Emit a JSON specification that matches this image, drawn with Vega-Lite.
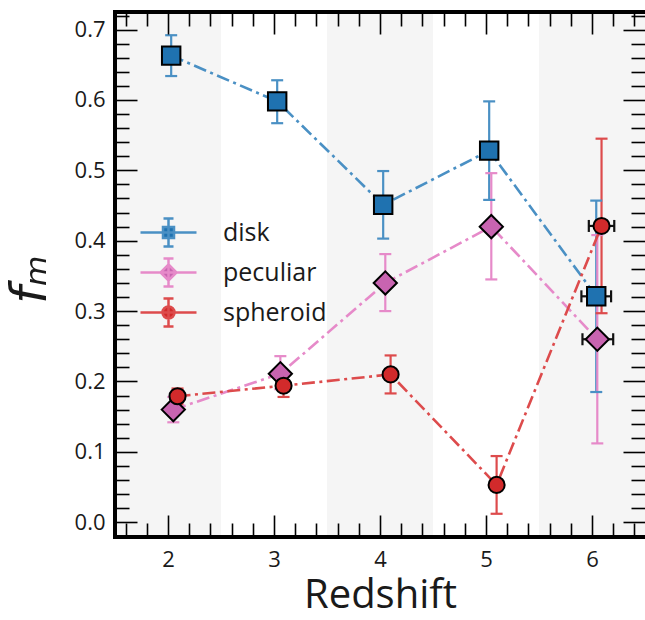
{
  "$schema": "https://vega.github.io/schema/vega-lite/v6.json",
  "width": 530,
  "height": 525,
  "autosize": {"type": "none"},
  "padding": {"left": 115, "top": 12, "right": 0, "bottom": 83},
  "background": "white",
  "config": {
    "view": {"stroke": null},
    "font": "Open Sans",
    "axis": {
      "labelFont": "Open Sans",
      "labelFontSize": 22,
      "labelColor": "#1a1a1a",
      "titleColor": "#1a1a1a",
      "titleFontWeight": "normal",
      "domain": false,
      "grid": false,
      "tickColor": "#000000",
      "tickWidth": 1.6,
      "labelFlush": false
    }
  },
  "datasets": {
    "pts": [
      {"series": "disk", "z": 2.03, "f": 0.663, "lo": 0.634, "hi": 0.692},
      {"series": "disk", "z": 3.03, "f": 0.598, "lo": 0.567, "hi": 0.628},
      {"series": "disk", "z": 4.03, "f": 0.451, "lo": 0.403, "hi": 0.499},
      {"series": "disk", "z": 5.03, "f": 0.528, "lo": 0.458, "hi": 0.598},
      {"series": "disk", "z": 6.04, "f": 0.321, "lo": 0.185, "hi": 0.457, "zlo": 5.9, "zhi": 6.18},
      {"series": "peculiar", "z": 2.05, "f": 0.16, "lo": 0.142, "hi": 0.178},
      {"series": "peculiar", "z": 3.06, "f": 0.211, "lo": 0.189, "hi": 0.236},
      {"series": "peculiar", "z": 4.05, "f": 0.34, "lo": 0.3, "hi": 0.381},
      {"series": "peculiar", "z": 5.05, "f": 0.42, "lo": 0.345, "hi": 0.496},
      {"series": "peculiar", "z": 6.05, "f": 0.26, "lo": 0.112, "hi": 0.408, "zlo": 5.91, "zhi": 6.2},
      {"series": "spheroid", "z": 2.09, "f": 0.179, "lo": 0.168, "hi": 0.19},
      {"series": "spheroid", "z": 3.09, "f": 0.194, "lo": 0.178, "hi": 0.208},
      {"series": "spheroid", "z": 4.1, "f": 0.21, "lo": 0.183, "hi": 0.237},
      {"series": "spheroid", "z": 5.1, "f": 0.053, "lo": 0.012, "hi": 0.094},
      {"series": "spheroid", "z": 6.09, "f": 0.421, "lo": 0.297, "hi": 0.545, "zlo": 5.97, "zhi": 6.21}
    ],
    "bands": [
      {"x0": 1.5, "x1": 2.5},
      {"x0": 3.5, "x1": 4.5},
      {"x0": 5.5, "x1": 6.5}
    ],
    "frame": [{"left": 1.5, "right": 6.53}]
  },
  "data": {"name": "pts"},
  "resolve": {
    "axis": {"x": "independent", "y": "independent"},
    "legend": {"color": "independent", "fill": "independent", "shape": "independent"}
  },
  "layer": [
    {
      "data": {"name": "bands"},
      "mark": {"type": "rect", "color": "#f5f5f5"},
      "encoding": {
        "x": {"field": "x0", "type": "quantitative", "scale": {"domain": [1.5, 6.5]}, "axis": null},
        "x2": {"field": "x1"}
      }
    },
    {
      "mark": {"type": "rule", "strokeWidth": 2.2},
      "encoding": {
        "x": {"field": "z", "type": "quantitative", "scale": {"domain": [1.5, 6.5]},
          "axis": {"orient": "bottom", "values": [2, 3, 4, 5, 6], "format": "d", "ticks": false, "tickSize": 0, "labelPadding": 12,
            "title": "Redshift", "titleFont": "Open Sans", "titleFontSize": 40, "titleY": 70, "titleBaseline": "alphabetic"}},
        "y": {"field": "lo", "type": "quantitative", "scale": {"domain": [-0.021, 0.725]},
          "axis": {"orient": "left", "values": [0, 0.1, 0.2, 0.3, 0.4, 0.5, 0.6, 0.7], "format": ".1f", "ticks": false, "tickSize": 0, "labelPadding": 10,
            "title": "fₘ", "titleFont": "DejaVu Sans", "titleFontStyle": "italic", "titleFontSize": 50, "titleX": -85, "titleY": 267,
            "titleAngle": -90, "titleAlign": "center", "titleBaseline": "middle"}},
        "y2": {"field": "hi"},
        "color": {"field": "series", "type": "nominal", "scale": {"domain": ["disk", "peculiar", "spheroid"], "range": ["#4a90c4", "#e68ac9", "#dd4b4c"]}, "legend": null}
      }
    },
    {
      "mark": {"type": "tick", "orient": "horizontal", "size": 12, "thickness": 2.2, "opacity": 1},
      "encoding": {
        "x": {"field": "z", "type": "quantitative", "scale": {"domain": [1.5, 6.5]},
          "axis": {"orient": "bottom", "values": [2, 3, 4, 5, 6], "labels": false, "tickSize": -22, "title": null, "zindex": 1}},
        "y": {"field": "lo", "type": "quantitative", "scale": {"domain": [-0.021, 0.725]},
          "axis": {"orient": "left", "values": [0, 0.1, 0.2, 0.3, 0.4, 0.5, 0.6, 0.7], "labels": false, "tickSize": -22, "title": null, "zindex": 1}},
        "color": {"field": "series", "type": "nominal", "scale": {"domain": ["disk", "peculiar", "spheroid"], "range": ["#4a90c4", "#e68ac9", "#dd4b4c"]}, "legend": null}
      }
    },
    {
      "mark": {"type": "tick", "orient": "horizontal", "size": 12, "thickness": 2.2, "opacity": 1},
      "encoding": {
        "x": {"field": "z", "type": "quantitative", "scale": {"domain": [1.5, 6.5]},
          "axis": {"orient": "bottom", "values": [1.6, 1.8, 2.2, 2.4, 2.6, 2.8, 3.2, 3.4, 3.6, 3.8, 4.2, 4.4, 4.6, 4.8, 5.2, 5.4, 5.6, 5.8, 6.2, 6.4], "labels": false, "tickSize": -14, "title": null, "zindex": 1}},
        "y": {"field": "hi", "type": "quantitative", "scale": {"domain": [-0.021, 0.725]},
          "axis": {"orient": "left", "values": [0.02, 0.04, 0.06, 0.08, 0.12, 0.14, 0.16, 0.18, 0.22, 0.24, 0.26, 0.28, 0.32, 0.34, 0.36, 0.38, 0.42, 0.44, 0.46, 0.48, 0.52, 0.54, 0.56, 0.58, 0.62, 0.64, 0.66, 0.68, 0.72], "labels": false, "tickSize": -14, "title": null, "zindex": 1}},
        "color": {"field": "series", "type": "nominal", "scale": {"domain": ["disk", "peculiar", "spheroid"], "range": ["#4a90c4", "#e68ac9", "#dd4b4c"]}, "legend": null}
      }
    },
    {
      "transform": [{"filter": "datum.zlo != null"}],
      "mark": {"type": "rule", "strokeWidth": 2.2, "color": "#111111"},
      "encoding": {
        "x": {"field": "zlo", "type": "quantitative", "scale": {"domain": [1.5, 6.5]},
          "axis": {"orient": "top", "values": [2, 3, 4, 5, 6], "labels": false, "tickSize": -22, "title": null, "zindex": 1}},
        "x2": {"field": "zhi"},
        "y": {"field": "f", "type": "quantitative", "scale": {"domain": [-0.021, 0.725]},
          "axis": {"orient": "right", "values": [0, 0.1, 0.2, 0.3, 0.4, 0.5, 0.6, 0.7], "labels": false, "tickSize": -22, "title": null, "zindex": 1}}
      }
    },
    {
      "transform": [{"filter": "datum.zlo != null"}],
      "mark": {"type": "tick", "orient": "vertical", "size": 12, "thickness": 2.2, "opacity": 1, "color": "#111111"},
      "encoding": {
        "x": {"field": "zlo", "type": "quantitative", "scale": {"domain": [1.5, 6.5]},
          "axis": {"orient": "top", "values": [1.6, 1.8, 2.2, 2.4, 2.6, 2.8, 3.2, 3.4, 3.6, 3.8, 4.2, 4.4, 4.6, 4.8, 5.2, 5.4, 5.6, 5.8, 6.2, 6.4], "labels": false, "tickSize": -14, "title": null, "zindex": 1}},
        "y": {"field": "f", "type": "quantitative", "scale": {"domain": [-0.021, 0.725]},
          "axis": {"orient": "right", "values": [0.02, 0.04, 0.06, 0.08, 0.12, 0.14, 0.16, 0.18, 0.22, 0.24, 0.26, 0.28, 0.32, 0.34, 0.36, 0.38, 0.42, 0.44, 0.46, 0.48, 0.52, 0.54, 0.56, 0.58, 0.62, 0.64, 0.66, 0.68, 0.72], "labels": false, "tickSize": -14, "title": null, "zindex": 1}}
      }
    },
    {
      "transform": [{"filter": "datum.zhi != null"}],
      "mark": {"type": "tick", "orient": "vertical", "size": 12, "thickness": 2.2, "opacity": 1, "color": "#111111"},
      "encoding": {
        "x": {"field": "zhi", "type": "quantitative", "scale": {"domain": [1.5, 6.5]}, "axis": null},
        "y": {"field": "f", "type": "quantitative", "scale": {"domain": [-0.021, 0.725]}, "axis": null}
      }
    },
    {
      "mark": {"type": "line", "strokeWidth": 2.6, "strokeDash": [13, 4.5, 3, 4.5]},
      "encoding": {
        "x": {"field": "z", "type": "quantitative", "scale": {"domain": [1.5, 6.5]}, "axis": null},
        "y": {"field": "f", "type": "quantitative", "scale": {"domain": [-0.021, 0.725]}, "axis": null},
        "color": {"field": "series", "type": "nominal", "scale": {"domain": ["disk", "peculiar", "spheroid"], "range": ["#4a90c4", "#e68ac9", "#dd4b4c"]}, "legend": null}
      }
    },
    {
      "transform": [{"filter": "datum.series == 'disk'"}],
      "mark": {"type": "point", "shape": "square", "filled": true, "size": 340, "stroke": "#000000", "strokeWidth": 2, "opacity": 1},
      "encoding": {
        "x": {"field": "z", "type": "quantitative", "scale": {"domain": [1.5, 6.5]}, "axis": null},
        "y": {"field": "f", "type": "quantitative", "scale": {"domain": [-0.021, 0.725]}, "axis": null},
        "fill": {"field": "series", "type": "nominal", "scale": {"domain": ["disk", "peculiar", "spheroid"], "range": ["#1f72b0", "#c864b0", "#d22a2b"]}, "legend": null}
      }
    },
    {
      "transform": [{"filter": "datum.series == 'peculiar'"}],
      "mark": {"type": "point", "shape": "diamond", "filled": true, "size": 540, "stroke": "#000000", "strokeWidth": 2, "opacity": 1},
      "encoding": {
        "x": {"field": "z", "type": "quantitative", "scale": {"domain": [1.5, 6.5]}, "axis": null},
        "y": {"field": "f", "type": "quantitative", "scale": {"domain": [-0.021, 0.725]}, "axis": null},
        "fill": {"field": "series", "type": "nominal", "scale": {"domain": ["disk", "peculiar", "spheroid"], "range": ["#1f72b0", "#c864b0", "#d22a2b"]}, "legend": null}
      }
    },
    {
      "transform": [{"filter": "datum.series == 'spheroid'"}],
      "mark": {"type": "point", "shape": "circle", "filled": true, "size": 260, "stroke": "#000000", "strokeWidth": 2, "opacity": 1},
      "encoding": {
        "x": {"field": "z", "type": "quantitative", "scale": {"domain": [1.5, 6.5]}, "axis": null},
        "y": {"field": "f", "type": "quantitative", "scale": {"domain": [-0.021, 0.725]}, "axis": null},
        "fill": {"field": "series", "type": "nominal", "scale": {"domain": ["disk", "peculiar", "spheroid"], "range": ["#1f72b0", "#c864b0", "#d22a2b"]}, "legend": null}
      }
    },
    {
      "transform": [{"filter": "false"}],
      "mark": {"type": "point", "filled": false, "opacity": 1, "strokeWidth": 2.5, "size": 400},
      "encoding": {
        "color": {"field": "series", "type": "nominal", "scale": {"domain": ["disk", "peculiar", "spheroid"], "range": ["#4a90c4", "#e68ac9", "#dd4b4c"]},
          "legend": {"orient": "none", "legendX": 41, "legendY": 208, "title": null, "padding": 0, "labelFont": "Open Sans", "labelFontSize": 25, "labelColor": "#1a1a1a", "symbolSize": 400, "symbolStrokeWidth": 2.5, "labelOffset": 42, "rowPadding": 1}},
        "fill": {"field": "series", "type": "nominal", "scale": {"domain": ["disk", "peculiar", "spheroid"], "range": ["#1f72b0", "#c864b0", "#d22a2b"]},
          "legend": {"orient": "none", "legendX": 41, "legendY": 208, "title": null, "padding": 0, "labelFont": "Open Sans", "labelFontSize": 25, "labelColor": "#1a1a1a", "symbolSize": 400, "symbolStrokeWidth": 2.5, "labelOffset": 42, "rowPadding": 1}},
        "shape": {"field": "series", "type": "nominal", "scale": {"domain": ["disk", "peculiar", "spheroid"], "range": [
            "M-2.8,0H2.8M0,-1.4V1.4M-0.5,-1.4H0.5M-0.5,1.4H0.5M-0.55,-0.55H0.55V0.55H-0.55Z",
            "M-2.8,0H2.8M0,-1.4V1.4M-0.5,-1.4H0.5M-0.5,1.4H0.5M0,-0.8L0.8,0L0,0.8L-0.8,0Z",
            "M-2.8,0H2.8M0,-1.4V1.4M-0.5,-1.4H0.5M-0.5,1.4H0.5M0.6,0A0.6,0.6,0,1,1,-0.6,0A0.6,0.6,0,1,1,0.6,0Z"]},
          "legend": {"orient": "none", "legendX": 41, "legendY": 208, "title": null, "padding": 0, "labelFont": "Open Sans", "labelFontSize": 25, "labelColor": "#1a1a1a", "symbolSize": 400, "symbolStrokeWidth": 2.5, "labelOffset": 42, "rowPadding": 1}}
      }
    },
    {
      "data": {"name": "frame"},
      "mark": {"type": "rect", "filled": false, "stroke": "#000000", "strokeWidth": 4, "opacity": 1},
      "encoding": {
        "x": {"field": "left", "type": "quantitative", "scale": {"domain": [1.5, 6.5]}, "axis": null},
        "x2": {"field": "right"}
      }
    }
  ]
}
